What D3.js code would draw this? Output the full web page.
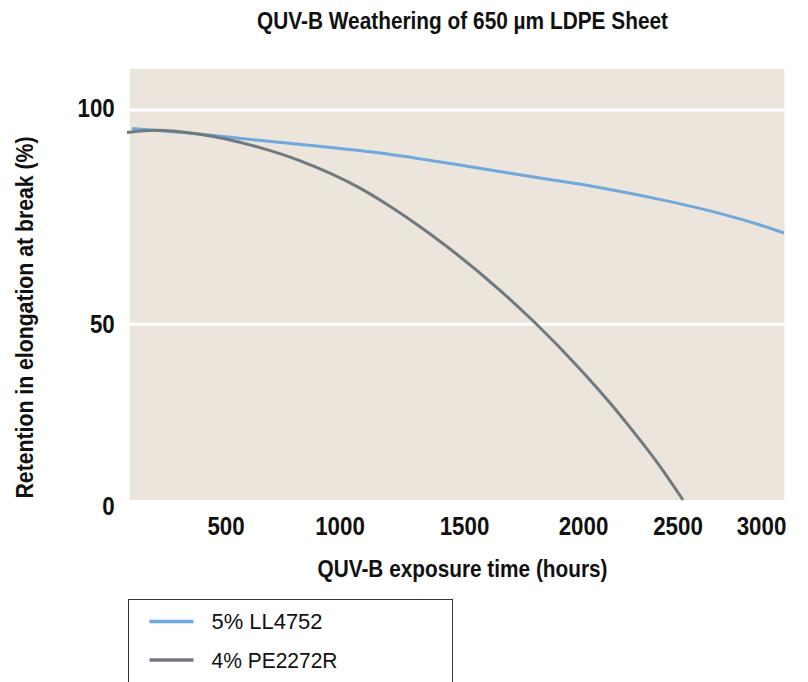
<!DOCTYPE html>
<html>
<head>
<meta charset="utf-8">
<script src="https://cdn.jsdelivr.net/npm/d3@7"></script>
<style>
  body { margin: 0; background: #fff; }
  svg { display: block; }
  text { font-family: "Liberation Sans", Arial, sans-serif; }
</style>
</head>
<body>
<div id="chart"></div>
<script>
// data
const xTicks = [500, 1000, 1500, 2000, 2500, 3000];
const yTicks = [0, 50, 100];
const seriesNames = ["5% LL4752", "4% PE2272R"];

const ll4752Hours  = [90, 300, 600, 900, 1200, 1500, 1800, 2100, 2400, 2700, 3000, 3138];
const ll4752Values = [95.7, 94.8, 93.2, 91.6, 89.7, 87.0, 84.3, 81.8, 79.2, 76.4, 73.1, 71.3];

const pe2272Hours  = [68, 190, 395, 640, 825, 1075, 1185, 1375, 1650, 1805, 1987, 2132, 2254, 2392, 2533];
const pe2272Values = [94.75, 95.3, 94.3, 91.4, 88.2, 82.0, 78.2, 70.6, 58.0, 50.0, 37.3, 28.3, 20.3, 10.7, 0];

const colors = ["#6fa8dc", "#6f7a80"];

const width = 808, height = 682;

const svg = d3.select("#chart")
  .append("svg")
  .attr("width", width)
  .attr("height", height);

// the original axes are not evenly spaced, so both scales are piecewise
const x = d3.scaleLinear()
  .domain(xTicks)
  .range([225.5, 339.5, 464, 583, 677.5, 761]);
const y = d3.scaleLinear()
  .domain(yTicks)
  .range([500, 324.3, 110]);

const xMin = 80, xMax = 3140, yMax = 109.6;

// condensed bold look: squeeze Liberation Sans to the original widths
function squeeze(sel, len) {
  sel.attr("textLength", len).attr("lengthAdjust", "spacingAndGlyphs");
}

// plot background
svg.append("rect")
  .attr("x", x(xMin))
  .attr("y", y(yMax))
  .attr("width", x(xMax) - x(xMin))
  .attr("height", y(0) - y(yMax))
  .attr("fill", "#ebe5db");

// white gridlines at 50 and 100
svg.selectAll(".grid")
  .data(yTicks.filter(d => d > 0))
  .join("line")
  .attr("class", "grid")
  .attr("x1", x(xMin))
  .attr("x2", x(xMax))
  .attr("y1", d => y(d))
  .attr("y2", d => y(d))
  .attr("stroke", "#fff")
  .attr("stroke-width", 3);

// axes
const yAxis = svg.append("g")
  .attr("transform", `translate(${x(xMin)},0)`)
  .call(d3.axisLeft(y).tickValues(yTicks).tickSize(0).tickPadding(15));
yAxis.select(".domain").remove();
yAxis.selectAll(".tick")
  .filter(d => d === 0)
  .select("text").attr("dy", "0.55em");
yAxis.selectAll(".tick")
  .filter(d => d === 100)
  .select("text").attr("dy", "0.24em");

const xAxis = svg.append("g")
  .attr("transform", `translate(0,${y(0)})`)
  .call(d3.axisBottom(x).tickValues(xTicks).tickSize(0).tickPadding(17).tickFormat(d3.format("d")));
xAxis.select(".domain").remove();

svg.selectAll(".tick text")
  .attr("font-family", null)
  .attr("font-size", 26)
  .attr("font-weight", "bold")
  .attr("fill", "#111")
  .call(squeeze, d => String(d).length * 12.4);

// titles
svg.append("text")
  .attr("x", 462.5)
  .attr("y", 29)
  .attr("text-anchor", "middle")
  .attr("font-size", 23)
  .attr("font-weight", "bold")
  .attr("fill", "#111")
  .text("QUV-B Weathering of 650 µm LDPE Sheet")
  .call(squeeze, 411);

svg.append("text")
  .attr("x", 462.5)
  .attr("y", 577)
  .attr("text-anchor", "middle")
  .attr("font-size", 24)
  .attr("font-weight", "bold")
  .attr("fill", "#111")
  .text("QUV-B exposure time (hours)")
  .call(squeeze, 290);

svg.append("text")
  .attr("transform", "translate(33,317.5) rotate(-90)")
  .attr("text-anchor", "middle")
  .attr("font-size", 24)
  .attr("font-weight", "bold")
  .attr("fill", "#111")
  .text("Retention in elongation at break (%)")
  .call(squeeze, 362);

// lines
const line = d3.line()
  .x(d => x(d[0]))
  .y(d => y(d[1]))
  .curve(d3.curveMonotoneX);

const series = [
  d3.zip(ll4752Hours, ll4752Values),
  d3.zip(pe2272Hours, pe2272Values)
];

svg.selectAll(".series")
  .data(series)
  .join("path")
  .attr("class", "series")
  .attr("fill", "none")
  .attr("stroke", (d, i) => colors[i])
  .attr("stroke-width", 3)
  .attr("d", line);

// legend
const legend = svg.append("g").attr("transform", "translate(128.5,599.5)");
legend.append("rect")
  .attr("width", 324)
  .attr("height", 120)
  .attr("fill", "#fff")
  .attr("stroke", "#333")
  .attr("stroke-width", 1);

const legendWidths = [111, 126];
const items = legend.selectAll(".item")
  .data(seriesNames)
  .join("g")
  .attr("class", "item")
  .attr("transform", (d, i) => `translate(0,${22 + i * 38.5})`);
items.append("line")
  .attr("x1", 21)
  .attr("x2", 65)
  .attr("stroke", (d, i) => colors[i])
  .attr("stroke-width", 3.5);
items.append("text")
  .attr("x", 83)
  .attr("dy", "0.36em")
  .attr("font-size", 22)
  .attr("fill", "#111")
  .text(d => d)
  .each(function(d, i) { d3.select(this).call(squeeze, legendWidths[i]); });
</script>
</body>
</html>
